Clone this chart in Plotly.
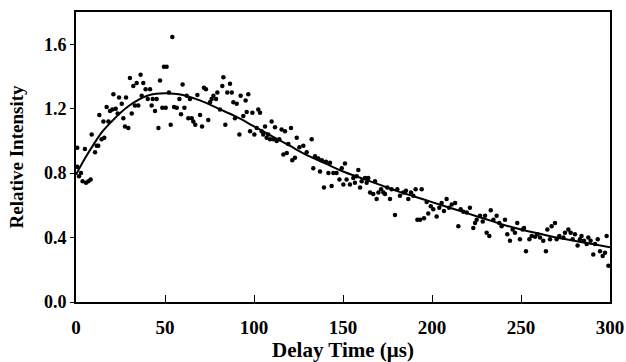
import plotly.graph_objects as go

# Measured data points (delay time in microseconds, relative intensity)
data_x = [0.7, 0.7, 1.7, 2.8, 3.7, 5.6, 7.0, 8.2, 5.0, 8.8, 10.7, 11.6, 12.5, 13.1, 14.4, 15.9,
          15.4, 17.2, 18.2, 19.1, 20.4, 21.0, 22.3, 23.4, 24.2, 25.7, 26.6, 27.5, 28.1, 29.4,
          30.3, 31.3, 32.2, 33.1, 34.1, 35.0, 36.3, 36.9, 37.8, 39.1, 40.3, 41.6, 42.5, 43.1,
          44.4, 45.3, 46.3, 47.2, 48.5, 49.4, 50.4, 50.9, 52.2, 53.2, 54.1, 55.1, 56.6, 58.1,
          59.0, 59.9, 60.9, 62.2, 63.1, 64.0, 65.0, 65.9, 67.0, 68.2, 69.7, 70.8, 71.9, 73.0,
          74.3, 75.3, 76.2, 77.2, 78.7, 79.4, 80.9, 82.2, 82.8, 83.9, 85.0, 86.5, 87.5, 88.4,
          89.3, 90.3, 91.8, 92.5, 94.0, 95.3, 95.9, 96.8, 97.8, 99.1, 100.2, 101.5, 102.4,
          103.4, 104.3, 105.2, 106.2, 107.1, 108.0, 109.0, 109.9, 110.9, 111.8, 112.7, 114.2,
          115.5, 116.5, 117.4, 118.4, 119.3, 120.8, 121.5, 123.0, 124.0, 125.5,
          127.7, 129.6, 132.4, 133.3, 134.3, 136.1, 137.1, 138.1, 139.3, 140.4, 141.8, 142.7,
          143.6, 144.6, 146.4, 148.0, 149.3, 150.2, 151.1, 152.0, 153.9, 155.8, 156.7, 157.7,
          158.6, 159.6, 160.5, 162.4, 163.3, 164.2, 165.2, 167.0, 168.0, 168.9, 169.9, 171.4,
          172.7, 173.6, 174.9, 176.4, 177.3, 179.2, 180.5, 182.0, 183.9, 185.4, 186.7, 188.2,
          189.5, 190.8, 191.8, 193.3, 194.2, 195.5, 197.0, 197.9, 199.3, 200.7, 202.6, 204.1,
          205.4, 206.7, 208.2, 209.6, 211.1, 213.0, 214.8, 216.1, 217.6, 219.5, 221.3, 223.2,
          224.2, 225.1, 227.0, 228.5, 229.8, 230.7, 232.2, 233.0, 234.5, 236.3, 237.8, 239.1,
          241.0, 242.3, 243.8, 245.3, 246.6, 247.9, 249.4, 250.9, 251.7, 252.8, 254.7, 256.0,
          257.9, 259.2, 260.7, 262.5, 264.0, 264.8, 266.3, 267.2, 269.1, 270.0, 271.5, 273.8,
          274.7, 276.6, 277.9, 279.0, 280.3, 281.8, 283.1, 284.0, 285.4, 286.9, 287.8, 289.1,
          290.6, 291.6, 293.1, 294.4, 295.9, 297.2, 298.1, 299.1]
data_y = [0.957, 0.84, 0.78, 0.80, 0.75, 0.74, 0.75, 0.76, 0.95, 1.04, 0.93, 0.97, 0.97, 1.16, 1.01, 1.02,
          1.12, 1.21, 1.12, 1.185, 1.195, 1.29, 1.20, 1.17, 1.27, 1.23, 1.14, 1.09, 1.27, 1.08,
          1.39, 1.17, 1.34, 1.22, 1.36, 1.22, 1.41, 1.28, 1.36, 1.32, 1.26, 1.32, 1.22, 1.26,
          1.185, 1.26, 1.08, 1.375, 1.205, 1.46, 1.205, 1.46, 1.30, 1.10, 1.645, 1.21, 1.205, 1.26,
          1.165, 1.35, 1.205, 1.28, 1.14, 1.26, 1.14, 1.12, 1.10, 1.285, 1.16, 1.09, 1.33, 1.32,
          1.13, 1.24, 1.26, 1.28, 1.26, 1.30, 1.195, 1.34, 1.395, 1.10, 1.30, 1.355, 1.30, 1.24,
          1.14, 1.23, 1.04, 1.28, 1.155, 1.25, 1.18, 1.29, 1.06, 1.175, 1.04, 1.08, 1.195,
          1.175, 1.06, 1.04, 1.09, 1.02, 1.04, 1.01, 1.12, 1.01, 1.085, 1.00, 1.01,
          1.07, 0.915, 1.06, 0.925, 0.98, 1.08, 0.88, 0.895, 1.02, 0.96,
          0.97, 0.93, 1.01, 0.83, 0.905, 0.89, 0.81, 0.88, 0.71, 0.87, 0.80, 0.865,
          0.72, 0.80, 0.80, 0.76, 0.83, 0.73, 0.86, 0.76, 0.73, 0.77, 0.74, 0.78,
          0.82, 0.71, 0.75, 0.77, 0.74, 0.77, 0.68, 0.67, 0.75, 0.64, 0.68, 0.70,
          0.68, 0.67, 0.71, 0.64, 0.70, 0.54, 0.70, 0.66, 0.68, 0.69, 0.64, 0.68,
          0.66, 0.70, 0.51, 0.51, 0.70, 0.52, 0.62, 0.55, 0.595, 0.575, 0.53, 0.585,
          0.615, 0.565, 0.64, 0.585, 0.605, 0.615, 0.47, 0.575, 0.56, 0.555, 0.585, 0.46,
          0.49, 0.51, 0.535, 0.50, 0.535, 0.43, 0.41, 0.57, 0.51, 0.535, 0.49, 0.47,
          0.51, 0.42, 0.38, 0.45, 0.43, 0.49, 0.39, 0.45, 0.46, 0.315, 0.39, 0.41,
          0.405, 0.42, 0.40, 0.38, 0.315, 0.45, 0.39, 0.47, 0.49, 0.39, 0.41, 0.40,
          0.43, 0.45, 0.43, 0.39, 0.42, 0.35, 0.39, 0.41, 0.38, 0.36, 0.40, 0.38,
          0.295, 0.36, 0.39, 0.315, 0.285, 0.305, 0.41, 0.225]

# Fitted curve
fit_x = [0, 5, 10, 15, 20, 25, 30, 35, 40, 45, 50, 55, 60, 70, 80, 90, 100, 110, 120, 130,
         140, 150, 160, 170, 180, 190, 200, 210, 220, 230, 240, 250, 260, 270, 280, 290, 300]
fit_y = [0.79, 0.89, 0.98, 1.06, 1.12, 1.175, 1.22, 1.255, 1.28, 1.292, 1.295, 1.293, 1.285,
         1.25, 1.20, 1.15, 1.09, 1.03, 0.97, 0.91, 0.86, 0.81, 0.77, 0.73, 0.69, 0.655, 0.62,
         0.585, 0.55, 0.515, 0.48, 0.45, 0.425, 0.40, 0.38, 0.36, 0.34]

x_ticks = [0, 50, 100, 150, 200, 250, 300]
y_ticks = [0.0, 0.4, 0.8, 1.2, 1.6]
y_tick_labels = ["0.0", "0.4", "0.8", "1.2", "1.6"]

FONT = "Liberation Serif"

fig = go.Figure()
fig.add_trace(go.Scatter(x=data_x, y=data_y, mode="markers",
                         marker=dict(color="black", size=4.5), cliponaxis=True,
                         showlegend=False))
fig.add_trace(go.Scatter(x=fit_x, y=fit_y, mode="lines",
                         line=dict(color="black", width=2, shape="spline"),
                         showlegend=False))

fig.update_layout(
    width=626, height=362,
    margin=dict(l=76, r=16, t=12, b=60),
    paper_bgcolor="white", plot_bgcolor="white",
    font=dict(family=FONT, color="black"),
    xaxis=dict(range=[0, 300], tickvals=x_ticks, ticks="inside", ticklen=7, tickwidth=1,
               tickcolor="black", showline=True, linecolor="black", linewidth=2, mirror=True,
               showgrid=False, zeroline=False, ticklabelstandoff=7, automargin=False,
               tickfont=dict(family=FONT, size=19, weight="bold", color="black"),
               title=dict(text="Delay Time (μs)", standoff=5,
                          font=dict(family=FONT, size=21, weight="bold", color="black"))),
    yaxis=dict(range=[0, 1.8], tickvals=y_ticks, ticktext=y_tick_labels, ticks="outside",
               ticklen=4, tickwidth=1, tickcolor="black", showline=True, linecolor="black",
               linewidth=2, mirror=True, showgrid=False, zeroline=False, automargin=False,
               tickfont=dict(family=FONT, size=18, weight="bold", color="black"),
               title=dict(text="Relative Intensity", standoff=15,
                          font=dict(family=FONT, size=19, weight="bold", color="black"))),
)

fig.write_html("out.html")
